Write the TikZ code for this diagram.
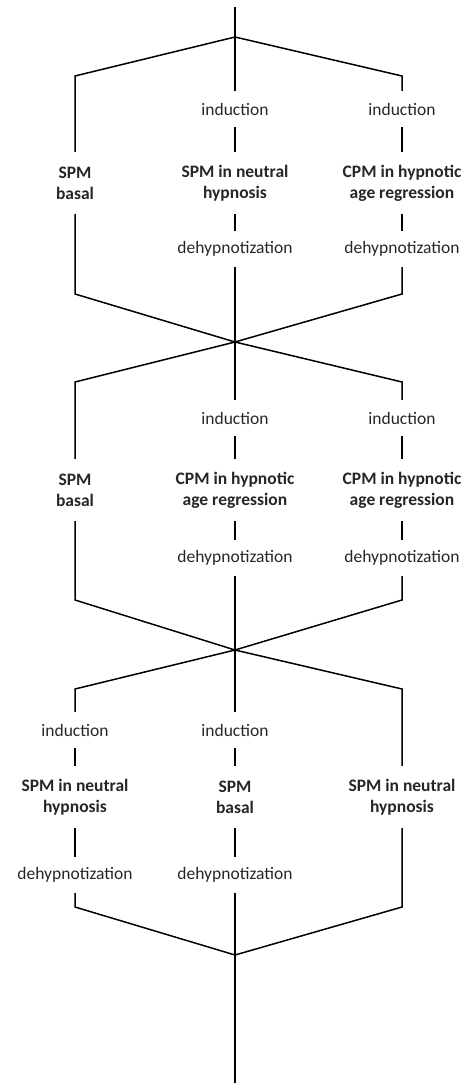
\documentclass[tikz,border=0pt]{standalone}
\usepackage{fontspec}
\setmainfont{Carlito}
\begin{document}
\begin{tikzpicture}[x=1pt,y=1pt,
  lab/.style={font=\fontsize{17.5}{21}\selectfont, text=black!85, inner sep=0pt, align=center},
  one/.style={lab, minimum height=36pt},
  two/.style={lab, font=\fontsize{17.5}{21}\selectfont\bfseries, minimum height=62pt},
  ln/.style={line width=1.5pt, black}]
\useasboundingbox (0,0) rectangle (463,-1083);
% ---------- block 1
\coordinate (top) at (235,-7);
\coordinate (j1) at (235,-37);
\coordinate (L1t) at (75,-76);
\coordinate (R1t) at (402,-76);
\node[two] (s1l) at (75,-183) {SPM\\basal};
\node[one] (i1c) at (235,-109) {induction};
\node[two] (s1c) at (235,-183) {SPM in neutral\\hypnosis};
\node[one] (d1c) at (235,-249) {dehypnotization};
\node[one] (i1r) at (402,-109) {induction};
\node[two] (s1r) at (402,-183) {CPM in hypnotic\\age regression};
\node[one] (d1r) at (402,-249) {dehypnotization};
\coordinate (L1b) at (75,-294);
\coordinate (R1b) at (402,-294);
\coordinate (x1) at (235,-342);
\draw[ln] (top) -- (j1) -- (i1c.north);
\draw[ln] (j1) -- (L1t) -- (s1l.north);
\draw[ln] (j1) -- (R1t) -- (i1r.north);
\draw[ln] (i1c) -- (s1c);
\draw[ln] (s1c) -- (d1c);
\draw[ln] (i1r) -- (s1r);
\draw[ln] (s1r) -- (d1r);
\draw[ln] (s1l.south) -- (L1b) -- (x1);
\draw[ln] (d1r.south) -- (R1b) -- (x1);
% ---------- block 2
\coordinate (L2t) at (75,-382);
\coordinate (R2t) at (402,-382);
\node[two] (s2l) at (75,-490) {SPM\\basal};
\node[one] (i2c) at (235,-418) {induction};
\node[two] (s2c) at (235,-490) {CPM in hypnotic\\age regression};
\node[one] (d2c) at (235,-558) {dehypnotization};
\node[one] (i2r) at (402,-418) {induction};
\node[two] (s2r) at (402,-490) {CPM in hypnotic\\age regression};
\node[one] (d2r) at (402,-558) {dehypnotization};
\coordinate (L2b) at (75,-600);
\coordinate (R2b) at (402,-600);
\coordinate (x2) at (235,-650);
\draw[ln] (d1c.south) -- (x1) -- (i2c.north);
\draw[ln] (x1) -- (L2t) -- (s2l.north);
\draw[ln] (x1) -- (R2t) -- (i2r.north);
\draw[ln] (i2c) -- (s2c);
\draw[ln] (s2c) -- (d2c);
\draw[ln] (i2r) -- (s2r);
\draw[ln] (s2r) -- (d2r);
\draw[ln] (s2l.south) -- (L2b) -- (x2);
\draw[ln] (d2r.south) -- (R2b) -- (x2);
% ---------- block 3
\coordinate (L3t) at (75,-689);
\coordinate (R3t) at (402,-689);
\node[one] (i3l) at (75,-730) {induction};
\node[two] (s3l) at (75,-797) {SPM in neutral\\hypnosis};
\node[one] (d3l) at (75,-875) {dehypnotization};
\node[one] (i3c) at (235,-730) {induction};
\node[two] (s3c) at (235,-797) {SPM\\basal};
\node[one] (d3c) at (235,-875) {dehypnotization};
\node[two] (s3r) at (402,-797) {SPM in neutral\\hypnosis};
\coordinate (L3b) at (75,-907);
\coordinate (R3b) at (402,-907);
\coordinate (j4) at (235,-955);
\coordinate (bot) at (235,-1083);
\draw[ln] (d2c.south) -- (x2) -- (i3c.north);
\draw[ln] (x2) -- (L3t) -- (i3l.north);
\draw[ln] (x2) -- (R3t) -- (s3r.north);
\draw[ln] (i3l) -- (s3l);
\draw[ln] (s3l) -- (d3l);
\draw[ln] (i3c) -- (s3c);
\draw[ln] (s3c) -- (d3c);
\draw[ln] (d3l.south) -- (L3b) -- (j4);
\draw[ln] (s3r.south) -- (R3b) -- (j4);
\draw[ln] (d3c.south) -- (j4) -- (bot);
\end{tikzpicture}
\end{document}
